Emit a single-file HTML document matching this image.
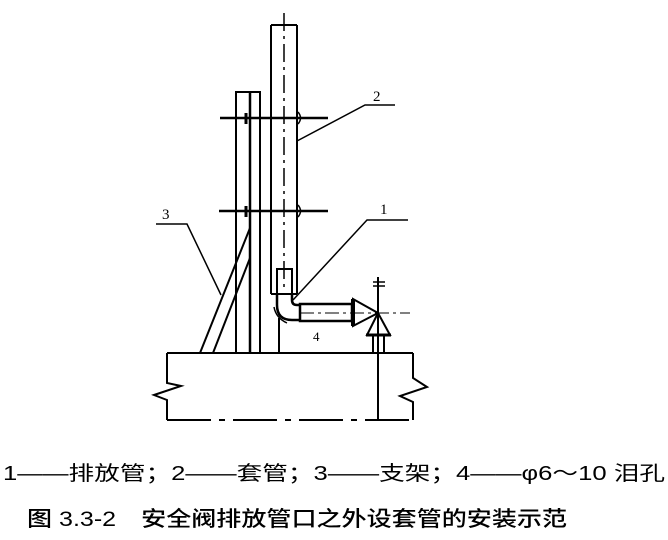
<!DOCTYPE html>
<html><head><meta charset="utf-8"><style>
html,body{margin:0;padding:0;background:#fff;}
svg{display:block;}
text{font-family:"Liberation Serif","Noto Serif CJK SC","Noto Sans CJK SC",serif;fill:#000;}
</style></head><body>
<svg width="668" height="540" viewBox="0 0 668 540" xmlns="http://www.w3.org/2000/svg">
<g stroke="#000" stroke-width="2" fill="none">
<line x1="271" y1="25" x2="271" y2="294"/>
<line x1="297" y1="25" x2="297" y2="294"/>
<line x1="271" y1="25" x2="297" y2="25"/>
<line x1="271" y1="294" x2="277" y2="294"/>
<line x1="292" y1="294" x2="297" y2="294"/>
<line x1="284" y1="13" x2="284" y2="290" stroke-width="1.5" stroke-dasharray="18,5,3,5"/>
<rect x="236" y="92" width="24" height="261"/>
<line x1="250" y1="92" x2="250" y2="353" stroke-width="2.5"/>
<line x1="220" y1="118" x2="328" y2="118" stroke-width="2.5"/>
<line x1="219" y1="211" x2="328" y2="211" stroke-width="2.5"/>
<line x1="246" y1="113" x2="246" y2="124" stroke-width="3"/>
<line x1="246" y1="206" x2="246" y2="217" stroke-width="3"/>
<path d="M298 112 Q303 118 298 124" stroke-width="1.5"/>
<path d="M298 205 Q303 211 298 217" stroke-width="1.5"/>
<line x1="200" y1="353" x2="250" y2="228"/>
<line x1="213" y1="353" x2="250" y2="258"/>
<polyline points="156,224 187,224 221,295" stroke-width="1.5"/>
<polyline points="297,141 365,105 395,105" stroke-width="1.5"/>
<polyline points="293,300 367,220 408,220" stroke-width="1.5"/>
<rect x="277" y="269" width="15" height="25"/>
<path d="M277 294 L277 305 Q277 320 292 320 L300 320" stroke-width="2.5"/>
<path d="M292 294 L292 300 Q292 305 297 305 L300 305" stroke-width="2.5"/>
<line x1="300" y1="304" x2="300" y2="321"/>
<rect x="300" y="304" width="52" height="17" stroke-width="2.5"/>
<line x1="300" y1="313" x2="410" y2="313" stroke-width="1" stroke-dasharray="14,4,3,4"/>
<line x1="353" y1="299" x2="353" y2="326" stroke-width="4"/>
<polygon points="353,299 378,313 353,326"/>
<path d="M274 307 Q276 318 287 323" stroke-width="1.5"/>
<line x1="279" y1="318" x2="279" y2="353"/>
<line x1="378" y1="277" x2="378" y2="420"/>
<line x1="373" y1="282" x2="385" y2="282" stroke-width="1.5"/>
<line x1="373" y1="286" x2="385" y2="286" stroke-width="1.5"/>
<line x1="353" y1="299" x2="378" y2="313" stroke-width="1"/>
<polygon points="378,313 367,335 390,335"/>
<line x1="366" y1="335" x2="391" y2="335" stroke-width="3"/>
<line x1="373" y1="335" x2="373" y2="353"/>
<line x1="384" y1="335" x2="384" y2="353"/>
<polyline points="167,353 413,353"/>
<polyline points="167,353 167,383 181,386 154,395 167,400 167,420"/>
<polyline points="413,353 413,378 427,387 400,396 413,402 413,420"/>
<line x1="167" y1="420" x2="413" y2="420" stroke-dasharray="44,8,6,8"/>
</g>
<g font-size="15">
<text x="373" y="101">2</text>
<text x="162" y="219">3</text>
<text x="380" y="214">1</text>
<text x="313" y="341" font-size="13">4</text>
</g>
<text x="3" y="480" font-size="20" textLength="662" lengthAdjust="spacingAndGlyphs" style="font-family:'Liberation Sans','Noto Sans CJK SC',sans-serif">1——排放管；2——套管；3——支架；4——φ6～10 泪孔</text>
<text x="27" y="526" font-size="21" textLength="540" lengthAdjust="spacingAndGlyphs" style="font-family:'Liberation Sans','Noto Sans CJK SC',sans-serif;font-weight:500">图 3.3-2　安全阀排放管口之外设套管的安装示范</text>
</svg>
</body></html>
